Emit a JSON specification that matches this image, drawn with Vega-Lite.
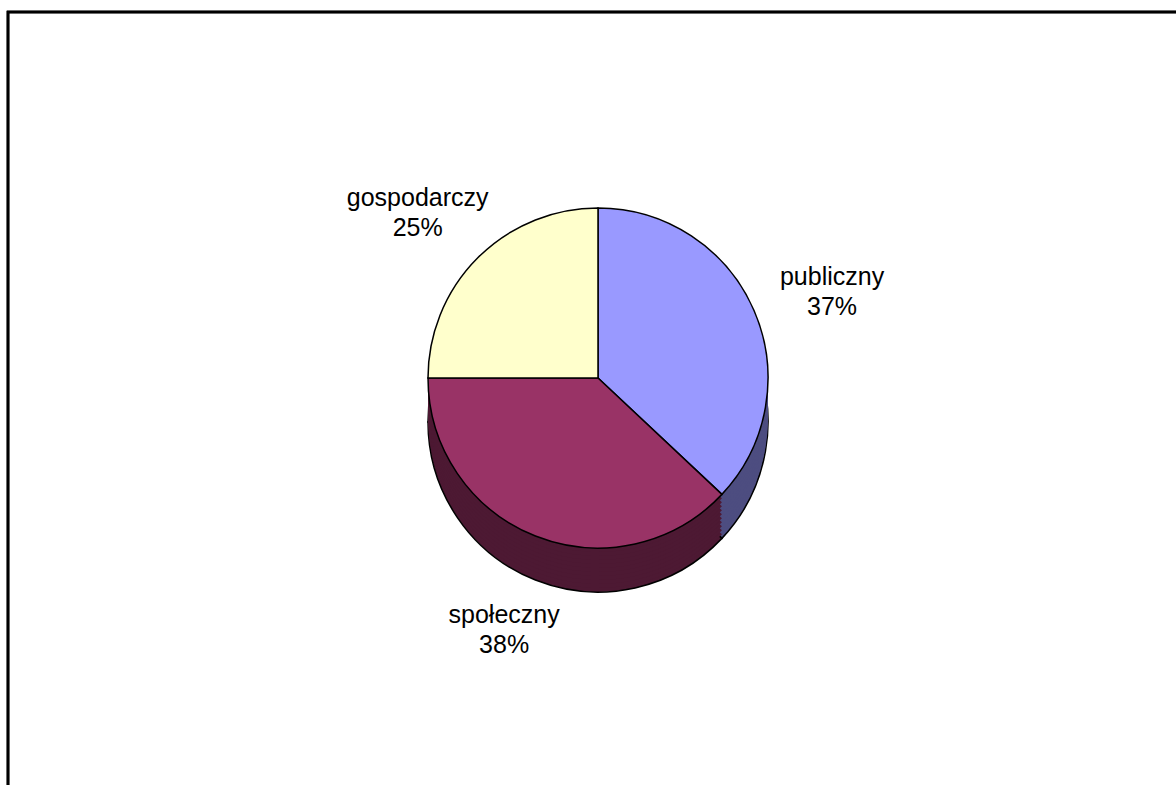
{
  "$schema": "https://vega.github.io/schema/vega-lite/v6.json",
  "autosize": "none",
  "padding": {"top": 12, "left": 8, "right": 0, "bottom": 0},
  "width": 1180,
  "height": 776,
  "background": "white",
  "config": {"view": {"stroke": "black", "strokeWidth": 2}},
  "data": {"values": [
    {"sektor": "publiczny", "udzial": 37, "kolejnosc": 1},
    {"sektor": "społeczny", "udzial": 38, "kolejnosc": 2},
    {"sektor": "gospodarczy", "udzial": 25, "kolejnosc": 3}
  ]},
  "layer": [
    {"mark": {"type": "rect", "fill": null, "fillOpacity": 0, "stroke": "black", "strokeWidth": 2.5},
     "encoding": {}},
    {"mark": {"type": "arc", "outerRadius": 170, "yOffset": 22, "stroke": "black", "strokeWidth": 1.5},
     "encoding": {"theta": {"field": "udzial", "type": "quantitative", "stack": true}, "order": {"field": "kolejnosc", "type": "quantitative"},
       "color": {"field": "sektor", "type": "nominal", "legend": null, "scale": {"domain": ["publiczny", "społeczny", "gospodarczy"], "range": ["#4D4D80", "#4D1933", "#80806A"]}}}},
    {"mark": {"type": "arc", "outerRadius": 170, "yOffset": 18},
     "encoding": {"theta": {"field": "udzial", "type": "quantitative", "stack": true}, "order": {"field": "kolejnosc", "type": "quantitative"},
       "color": {"field": "sektor", "type": "nominal", "legend": null, "scale": {"domain": ["publiczny", "społeczny", "gospodarczy"], "range": ["#4D4D80", "#4D1933", "#80806A"]}}}},
    {"mark": {"type": "arc", "outerRadius": 170, "yOffset": 14},
     "encoding": {"theta": {"field": "udzial", "type": "quantitative", "stack": true}, "order": {"field": "kolejnosc", "type": "quantitative"},
       "color": {"field": "sektor", "type": "nominal", "legend": null, "scale": {"domain": ["publiczny", "społeczny", "gospodarczy"], "range": ["#4D4D80", "#4D1933", "#80806A"]}}}},
    {"mark": {"type": "arc", "outerRadius": 170, "yOffset": 10},
     "encoding": {"theta": {"field": "udzial", "type": "quantitative", "stack": true}, "order": {"field": "kolejnosc", "type": "quantitative"},
       "color": {"field": "sektor", "type": "nominal", "legend": null, "scale": {"domain": ["publiczny", "społeczny", "gospodarczy"], "range": ["#4D4D80", "#4D1933", "#80806A"]}}}},
    {"mark": {"type": "arc", "outerRadius": 170, "yOffset": 6},
     "encoding": {"theta": {"field": "udzial", "type": "quantitative", "stack": true}, "order": {"field": "kolejnosc", "type": "quantitative"},
       "color": {"field": "sektor", "type": "nominal", "legend": null, "scale": {"domain": ["publiczny", "społeczny", "gospodarczy"], "range": ["#4D4D80", "#4D1933", "#80806A"]}}}},
    {"mark": {"type": "arc", "outerRadius": 170, "yOffset": 2},
     "encoding": {"theta": {"field": "udzial", "type": "quantitative", "stack": true}, "order": {"field": "kolejnosc", "type": "quantitative"},
       "color": {"field": "sektor", "type": "nominal", "legend": null, "scale": {"domain": ["publiczny", "społeczny", "gospodarczy"], "range": ["#4D4D80", "#4D1933", "#80806A"]}}}},
    {"mark": {"type": "arc", "outerRadius": 170, "yOffset": -2},
     "encoding": {"theta": {"field": "udzial", "type": "quantitative", "stack": true}, "order": {"field": "kolejnosc", "type": "quantitative"},
       "color": {"field": "sektor", "type": "nominal", "legend": null, "scale": {"domain": ["publiczny", "społeczny", "gospodarczy"], "range": ["#4D4D80", "#4D1933", "#80806A"]}}}},
    {"mark": {"type": "arc", "outerRadius": 170, "yOffset": -6},
     "encoding": {"theta": {"field": "udzial", "type": "quantitative", "stack": true}, "order": {"field": "kolejnosc", "type": "quantitative"},
       "color": {"field": "sektor", "type": "nominal", "legend": null, "scale": {"domain": ["publiczny", "społeczny", "gospodarczy"], "range": ["#4D4D80", "#4D1933", "#80806A"]}}}},
    {"mark": {"type": "arc", "outerRadius": 170, "yOffset": -10},
     "encoding": {"theta": {"field": "udzial", "type": "quantitative", "stack": true}, "order": {"field": "kolejnosc", "type": "quantitative"},
       "color": {"field": "sektor", "type": "nominal", "legend": null, "scale": {"domain": ["publiczny", "społeczny", "gospodarczy"], "range": ["#4D4D80", "#4D1933", "#80806A"]}}}},
    {"mark": {"type": "arc", "outerRadius": 170, "yOffset": -14},
     "encoding": {"theta": {"field": "udzial", "type": "quantitative", "stack": true}, "order": {"field": "kolejnosc", "type": "quantitative"},
       "color": {"field": "sektor", "type": "nominal", "legend": null, "scale": {"domain": ["publiczny", "społeczny", "gospodarczy"], "range": ["#4D4D80", "#4D1933", "#80806A"]}}}},
    {"mark": {"type": "arc", "outerRadius": 170, "yOffset": -18},
     "encoding": {"theta": {"field": "udzial", "type": "quantitative", "stack": true}, "order": {"field": "kolejnosc", "type": "quantitative"},
       "color": {"field": "sektor", "type": "nominal", "legend": null, "scale": {"domain": ["publiczny", "społeczny", "gospodarczy"], "range": ["#4D4D80", "#4D1933", "#80806A"]}}}},
    {"mark": {"type": "arc", "outerRadius": 170, "yOffset": -22, "stroke": "black", "strokeWidth": 1.5},
     "encoding": {"theta": {"field": "udzial", "type": "quantitative", "stack": true}, "order": {"field": "kolejnosc", "type": "quantitative"},
       "color": {"field": "sektor", "type": "nominal", "legend": null, "scale": {"domain": ["publiczny", "społeczny", "gospodarczy"], "range": ["#9999FF", "#993366", "#FFFFCC"]}}}},
    {"transform": [{"calculate": "datum.sektor + '\\n' + datum.udzial + '%'", "as": "etykieta"}],
     "mark": {"type": "text", "radius": 255, "yOffset": -22, "font": "Liberation Sans", "fontSize": 25, "lineHeight": 30, "lineBreak": "\n", "align": "center", "baseline": "middle", "color": "black"},
     "encoding": {"theta": {"field": "udzial", "type": "quantitative", "stack": true}, "order": {"field": "kolejnosc", "type": "quantitative"},
       "text": {"field": "etykieta", "type": "nominal"}}}
  ],
  "resolve": {"scale": {"color": "independent", "theta": "independent"}}
}
